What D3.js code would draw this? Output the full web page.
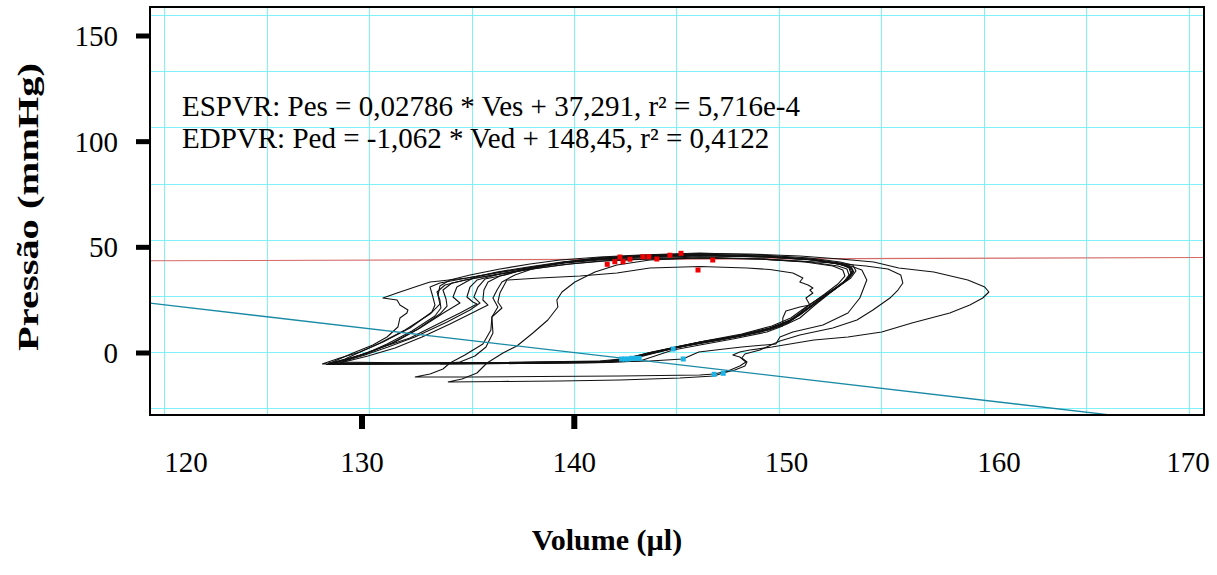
<!DOCTYPE html>
<html>
<head>
<meta charset="utf-8">
<script src="https://cdn.jsdelivr.net/npm/d3@7"></script>
<style>
  body { margin: 0; background: #fff; }
  text { font-family: "Liberation Serif", "Times New Roman", serif; }
</style>
</head>
<body>
<div id="chart"></div>
<script>
// PV loops, [volume µl, pressure mmHg]
const loopB1 = [[127.70,-5.34],[131.50,-5.12],[136.38,-4.90],[141.26,-4.45],[142.48,-3.12],[143.70,-0.45],[144.83,1.78],[146.14,4.45],[147.75,6.67],[149.41,10.23],[150.39,12.90],[151.02,16.46],[151.85,22.25],[152.63,27.59],[153.32,32.04],[153.61,35.15],[153.56,37.38],[153.12,38.72],[151.85,40.94],[149.41,42.27],[146.14,43.16],[142.87,42.27],[141.26,41.38],[139.65,40.05],[137.99,37.83],[136.38,35.60],[134.77,32.93],[133.45,30.70],[132.97,28.92],[133.11,24.47],[133.21,20.91],[133.06,17.80],[131.99,10.68],[130.67,4.45],[129.55,0.00],[128.57,-2.67],[127.70,-5.34]];
const loopB2 = [[127.99,-4.90],[131.50,-4.90],[136.38,-4.68],[141.26,-4.01],[142.73,-2.67],[144.19,0.44],[145.65,3.11],[147.12,5.34],[149.07,8.90],[150.29,12.01],[151.02,15.13],[151.76,20.91],[152.49,26.25],[153.12,30.70],[153.42,34.26],[153.32,36.94],[152.88,38.27],[151.51,40.05],[149.07,41.38],[146.14,42.27],[143.21,41.38],[141.26,40.50],[139.31,38.72],[137.60,36.49],[136.14,34.26],[134.67,32.04],[133.70,29.81],[133.31,26.70],[133.45,23.14],[133.50,19.58],[133.21,16.02],[132.09,9.34],[130.87,3.56],[129.79,-0.89],[128.82,-3.56],[127.99,-4.90]];
const loopB3 = [[128.33,-4.45],[132.48,-4.90],[137.36,-4.68],[141.75,-4.23],[142.34,-3.34],[143.46,-1.34],[144.68,1.33],[146.14,4.00],[148.09,7.12],[149.56,10.68],[150.54,14.24],[151.27,18.69],[152.10,24.03],[152.88,28.92],[153.51,32.93],[153.76,36.05],[153.61,38.72],[152.98,40.05],[151.51,41.83],[149.07,43.16],[146.14,44.05],[143.21,43.16],[141.26,42.27],[139.31,40.94],[137.85,39.16],[136.38,36.94],[134.92,34.26],[133.94,32.04],[133.45,29.37],[133.36,25.36],[133.45,21.36],[132.97,16.91],[131.75,9.79],[130.53,4.00],[129.45,-0.45],[128.82,-3.12],[128.33,-4.45]];
const loopB4 = [[127.89,-5.57],[131.99,-5.34],[136.87,-5.12],[141.51,-4.68],[142.63,-3.56],[143.95,-0.45],[145.17,2.22],[146.63,4.89],[148.34,7.56],[149.80,11.12],[150.68,14.68],[151.42,20.47],[152.24,25.81],[152.88,30.26],[153.22,33.82],[153.12,36.49],[152.63,38.27],[151.27,40.05],[149.07,41.38],[146.39,41.83],[143.70,41.38],[141.51,40.50],[139.80,39.16],[138.33,37.38],[136.63,35.15],[135.16,32.93],[134.04,30.70],[133.60,27.59],[133.75,23.58],[133.80,20.47],[133.45,16.91],[132.38,10.23],[131.11,4.00],[129.94,-0.45],[128.87,-3.56],[127.89,-5.57]];
const loopB5 = [[128.09,-5.34],[131.99,-5.12],[136.87,-4.90],[141.51,-4.23],[142.53,-2.89],[143.80,0.00],[144.97,2.22],[146.39,4.89],[148.00,7.12],[149.56,10.68],[150.49,13.80],[151.17,17.80],[151.95,23.14],[152.73,28.03],[153.37,32.48],[153.56,35.60],[153.42,37.83],[152.88,39.16],[151.61,40.94],[149.32,42.27],[146.14,42.72],[143.21,41.83],[141.26,40.94],[139.55,39.61],[137.94,37.38],[136.38,34.71],[135.26,32.04],[134.92,28.92],[134.77,24.47],[135.06,22.25],[135.26,21.36],[134.43,17.35],[133.45,12.90],[131.99,6.22],[130.67,2.22],[129.55,-1.34],[128.57,-4.01],[128.09,-5.34]];
const loopB6 = [[128.23,-5.12],[132.48,-4.90],[137.36,-4.68],[141.85,-4.01],[142.73,-2.67],[143.95,0.00],[145.17,2.67],[146.63,5.34],[148.19,8.01],[149.66,11.57],[150.58,15.13],[151.32,20.02],[152.15,24.92],[152.98,29.81],[153.46,33.37],[153.61,36.49],[153.37,38.27],[152.63,39.61],[151.27,41.38],[149.07,42.72],[146.14,43.39],[143.21,42.72],[141.26,41.83],[139.41,40.05],[137.75,37.83],[136.24,35.60],[135.16,33.37],[134.28,28.92],[134.09,24.47],[134.43,21.80],[133.70,17.80],[132.48,10.68],[131.26,4.45],[130.04,0.00],[128.82,-3.56],[128.23,-5.12]];
const loopB7 = [[127.99,-5.34],[131.99,-5.34],[136.63,-5.12],[141.26,-4.68],[142.43,-3.12],[143.61,-0.45],[144.78,1.78],[146.24,4.45],[147.85,7.12],[149.46,10.23],[150.44,13.35],[151.07,16.91],[151.90,22.69],[152.68,27.59],[153.27,32.04],[153.51,35.15],[153.42,37.38],[152.98,39.16],[151.76,40.94],[149.41,42.50],[146.14,43.16],[142.87,42.27],[141.16,41.16],[139.55,39.83],[137.94,37.61],[136.38,35.38],[134.77,32.93],[133.45,31.59],[132.97,31.15],[132.23,28.92],[131.36,26.25],[130.67,24.03],[131.36,23.14],[131.50,20.91],[131.89,18.69],[131.84,17.35],[131.50,15.13],[131.40,11.12],[130.87,6.67],[130.18,3.11],[129.21,-0.45],[128.43,-3.56],[127.99,-5.34]];
const loopB8 = [[128.43,-5.34],[132.48,-5.12],[137.11,-4.90],[141.65,-4.45],[142.58,-3.12],[143.70,-0.89],[144.92,1.78],[146.29,4.00],[147.95,6.67],[149.51,9.79],[150.44,12.90],[151.12,17.35],[152.00,23.14],[152.78,28.48],[153.42,32.93],[153.66,35.60],[153.51,37.83],[152.98,39.61],[151.61,41.38],[149.32,42.72],[146.14,43.61],[143.21,42.72],[141.26,41.61],[139.55,40.05],[138.09,38.05],[136.63,34.26],[135.65,32.48],[135.31,28.92],[135.11,24.47],[135.41,21.80],[134.92,18.69],[133.80,13.35],[132.23,6.67],[130.92,2.22],[129.79,-1.34],[128.82,-4.01],[128.43,-5.34]];
const loopO1 = [[128.57,-4.90],[132.97,-5.12],[137.36,-4.90],[141.26,-4.45],[143.70,-4.01],[145.31,-3.12],[145.75,-1.34],[146.09,0.00],[147.12,1.11],[148.19,2.22],[149.85,3.56],[150.05,6.67],[150.68,8.90],[152.15,12.01],[153.37,17.35],[153.95,24.03],[154.29,32.04],[154.05,36.49],[153.22,39.16],[151.76,40.94],[149.56,42.27],[146.14,42.94],[143.21,42.27],[141.26,41.38],[139.41,39.61],[137.60,36.94],[136.38,33.82],[135.80,31.15],[135.60,27.59],[135.55,23.14],[135.80,20.91],[135.02,17.35],[133.94,12.46],[132.58,6.67],[131.26,1.78],[129.94,-1.78],[128.96,-4.01],[128.57,-4.90]];
const loopO2 = [[133.84,-13.35],[136.38,-13.13],[139.31,-12.91],[142.24,-12.46],[145.17,-11.57],[146.83,-10.69],[147.27,-9.35],[147.85,-8.02],[148.34,-6.24],[148.44,-4.45],[148.19,-2.67],[148.34,-0.89],[149.07,0.89],[150.05,4.89],[151.02,7.56],[152.63,10.68],[153.81,14.24],[154.59,18.69],[155.42,24.03],[155.81,27.59],[156.05,30.70],[155.95,34.26],[155.32,36.94],[154.25,38.27],[152.63,39.61],[151.02,40.50],[149.07,41.38],[146.14,41.83],[143.70,40.94],[142.09,38.72],[141.02,35.60],[140.04,31.15],[139.41,26.70],[139.16,23.14],[139.21,20.02],[138.72,14.24],[137.99,8.45],[137.21,2.67],[136.53,-0.45],[135.75,-4.90],[135.26,-9.35],[134.53,-12.02],[133.84,-13.35]];
const loopO3 = [[132.23,-11.13],[134.92,-11.13],[138.33,-10.91],[142.24,-10.69],[146.14,-10.24],[146.83,-9.80],[147.51,-8.46],[148.09,-6.24],[148.39,-4.45],[148.09,-2.23],[147.75,-1.34],[148.09,0.00],[148.58,0.89],[149.66,2.22],[151.71,5.34],[153.37,6.67],[155.02,8.90],[156.49,12.90],[158.34,17.35],[159.32,20.91],[159.95,24.03],[160.25,26.70],[160.05,28.92],[159.22,32.04],[157.56,35.60],[155.85,37.38],[154.63,40.05],[152.98,41.38],[151.02,42.72],[148.58,43.61],[146.14,43.83],[143.70,43.16],[141.26,42.05],[139.55,40.05],[138.09,37.38],[137.11,34.26],[136.48,31.15],[136.24,27.59],[136.04,24.03],[136.28,20.02],[135.99,15.57],[135.94,9.79],[135.55,3.56],[134.67,-1.34],[133.94,-4.90],[133.60,-7.57],[132.97,-9.80],[132.23,-11.13]];
const loopI1 = [[133.45,-5.34],[137.36,-5.12],[141.75,-4.68],[143.21,-4.01],[144.83,0.89],[146.14,3.11],[147.75,5.79],[149.41,8.90],[150.19,11.57],[150.19,15.13],[150.34,18.25],[151.02,20.02],[151.51,20.91],[151.32,24.03],[151.66,26.25],[151.51,27.59],[151.66,28.48],[151.42,29.81],[151.02,31.15],[151.17,32.93],[150.88,34.26],[150.68,35.15],[149.56,36.72],[148.44,37.38],[146.14,38.05],[143.70,37.38],[142.09,35.15],[140.29,33.82],[138.33,32.93],[136.72,32.04],[136.38,26.25],[136.28,22.25],[136.48,19.58],[135.99,15.57],[136.04,8.45],[135.70,2.22],[135.16,-1.78],[134.43,-4.45],[133.45,-5.34]];

// end-systolic (red) and end-diastolic (cyan) points
const esPoints = [[141.62,39.02],[141.99,40.18],[142.24,42.27],[142.39,40.18],[142.73,41.30],[143.36,42.41],[143.65,42.41],[144.04,41.38],[144.68,43.08],[145.22,43.92],[146.77,40.94],[146.05,36.49]];
const edPoints = [[142.32,-3.12],[142.48,-3.12],[142.64,-3.12],[142.81,-2.81],[143.02,-2.81],[143.18,-2.81],[144.84,1.33],[145.33,-3.12],[146.84,-9.93],[147.28,-9.48]];

// regression lines (from the annotation)
const espvr = { slope: 0.02786, intercept: 37.291 };
const edpvr = { slope: -1.062, intercept: 148.45 };
const annotation = [
  "ESPVR: Pes = 0,02786 * Ves + 37,291, r² = 5,716e-4",
  "EDPVR: Ped = -1,062 * Ved + 148,45, r² = 0,4122"
];

// axis labels as printed, grid values
const xTickLabels = [120, 130, 140, 150, 160, 170];
const xTickMarks = [130, 140];
const yTickLabels = [0, 50, 100, 150];
const xGrid = [120, 125, 130, 135, 140, 145, 150, 155, 160, 165, 170];
const yGrid = [-25, 0, 25, 50, 75, 100, 125, 150];

const width = 1217, height = 575;
const pLeft = 150, pRight = 1204, pTop = 7, pBottom = 415;

const svg = d3.select("#chart").append("svg")
  .attr("width", width)
  .attr("height", height);

const x = d3.scaleLinear().domain([119.3, 170.75]).range([pLeft, pRight]);
const y = d3.scaleLinear().domain([-28.04, 153.56]).range([pBottom, pTop]);

// the printed axis does not line up with the grid, keep its own scale
const xLab = d3.scaleLinear().domain([130, 140]).range([362, 574.3]);
const yLab = d3.scaleLinear().domain([0, 150]).range([353, 36]);

svg.append("clipPath").attr("id", "plot-clip")
  .append("rect")
  .attr("x", pLeft).attr("y", pTop)
  .attr("width", pRight - pLeft).attr("height", pBottom - pTop);

// grid
const grid = svg.append("g").attr("stroke", "#7ff2f7").attr("stroke-width", 1);
grid.selectAll("line.gx")
  .data(xGrid)
  .enter().append("line")
  .attr("class", "gx")
  .attr("x1", d => Math.round(x(d)) + 0.5).attr("x2", d => Math.round(x(d)) + 0.5)
  .attr("y1", pTop).attr("y2", pBottom);
grid.selectAll("line.gy")
  .data(yGrid)
  .enter().append("line")
  .attr("class", "gy")
  .attr("y1", d => Math.round(y(d)) + 0.5).attr("y2", d => Math.round(y(d)) + 0.5)
  .attr("x1", pLeft).attr("x2", pRight);

const plot = svg.append("g").attr("clip-path", "url(#plot-clip)");

// fit lines
const fitLine = (fit) => x.domain().map(v => [v, fit.slope * v + fit.intercept]);
const line = d3.line().x(d => x(d[0])).y(d => y(d[1]));

plot.append("path")
  .datum(fitLine(espvr))
  .attr("d", line)
  .attr("fill", "none")
  .attr("stroke", "#d46a6a")
  .attr("stroke-width", 1.1);

// loops
const loops = [loopO3, loopO2, loopO1, loopI1, loopB8, loopB7, loopB6, loopB5, loopB4, loopB3, loopB2, loopB1];
plot.selectAll("path.loop")
  .data(loops)
  .enter().append("path")
  .attr("class", "loop")
  .attr("d", line)
  .attr("fill", "none")
  .attr("stroke", "#111")
  .attr("stroke-width", 1.1)
  .attr("stroke-linejoin", "round");

plot.append("path")
  .datum(fitLine(edpvr))
  .attr("d", line)
  .attr("fill", "none")
  .attr("stroke", "#1a8aa6")
  .attr("stroke-width", 1.3);

plot.selectAll("rect.es")
  .data(esPoints)
  .enter().append("rect")
  .attr("class", "es")
  .attr("x", d => x(d[0]) - 2.5).attr("y", d => y(d[1]) - 2.5)
  .attr("width", 5).attr("height", 5)
  .attr("fill", "#f00000");

plot.selectAll("rect.ed")
  .data(edPoints)
  .enter().append("rect")
  .attr("class", "ed")
  .attr("x", d => x(d[0]) - 2.5).attr("y", d => y(d[1]) - 2.5)
  .attr("width", 5).attr("height", 5)
  .attr("fill", "#1cb4e6");

// annotation
svg.append("g")
  .selectAll("text")
  .data(annotation)
  .enter().append("text")
  .attr("x", 182)
  .attr("y", (d, i) => 116 + i * 32)
  .attr("font-size", 29)
  .attr("fill", "#000")
  .text(d => d);

// frame
svg.append("rect")
  .attr("x", pLeft).attr("y", pTop)
  .attr("width", pRight - pLeft).attr("height", pBottom - pTop)
  .attr("fill", "none")
  .attr("stroke", "#000")
  .attr("stroke-width", 2);

// y axis ticks and labels
const yAxis = svg.append("g");
yAxis.selectAll("rect")
  .data(yTickLabels)
  .enter().append("rect")
  .attr("x", 136).attr("y", d => yLab(d) - 2.5)
  .attr("width", 14).attr("height", 5)
  .attr("fill", "#000");
yAxis.selectAll("text")
  .data(yTickLabels)
  .enter().append("text")
  .attr("x", 118)
  .attr("y", d => yLab(d))
  .attr("dy", "0.35em")
  .attr("text-anchor", "end")
  .attr("font-size", 29)
  .text(d => d);

// x axis ticks and labels
const xAxis = svg.append("g");
xAxis.selectAll("rect")
  .data(xTickMarks)
  .enter().append("rect")
  .attr("x", d => xLab(d) - 3).attr("y", pBottom)
  .attr("width", 6).attr("height", 14)
  .attr("fill", "#000");
xAxis.selectAll("text")
  .data(xTickLabels)
  .enter().append("text")
  .attr("x", d => Math.max(186, Math.min(1188, xLab(d))))
  .attr("y", 472)
  .attr("text-anchor", "middle")
  .attr("font-size", 29)
  .text(d => d);

// axis titles
svg.append("text")
  .attr("x", 607).attr("y", 550)
  .attr("text-anchor", "middle")
  .attr("font-size", 30)
  .attr("font-weight", "bold")
  .text("Volume (µl)");

svg.append("text")
  .attr("transform", "translate(38,207) rotate(-90)")
  .attr("text-anchor", "middle")
  .attr("font-size", 30)
  .attr("font-weight", "bold")
  .attr("textLength", 288)
  .attr("lengthAdjust", "spacingAndGlyphs")
  .text("Pressão (mmHg)");
</script>
</body>
</html>
